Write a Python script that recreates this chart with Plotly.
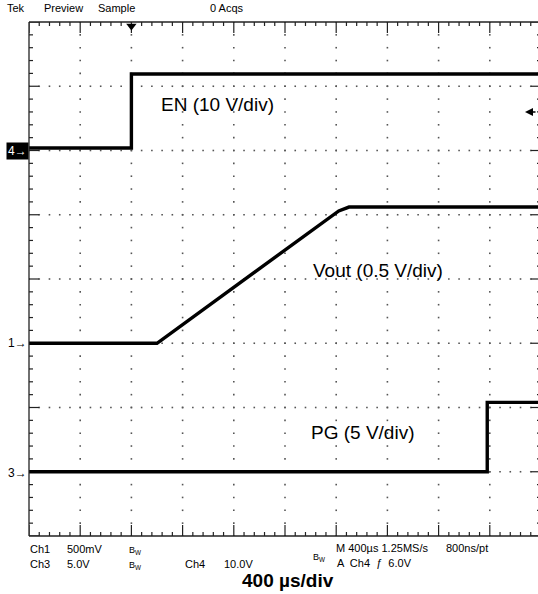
import numpy as np
import plotly.graph_objects as go

# ---------------- data (time in µs relative to trigger, values in volts) -------------
t_en = [-800, 0, 0, 3180]
v_en = [0.4, 0.4, 11.9, 11.9]

t_vout = [-800, 200, 1620, 1700, 3180]
v_vout = [0.0, 0.0, 1.03, 1.06, 1.06]

t_pg = [-800, 2780, 2780, 3180]
v_pg = [0.0, 0.0, 5.4, 5.4]

labels = ["EN (10 V/div)", "Vout (0.5 V/div)", "PG (5 V/div)"]
header = ["Tek", "Preview", "Sample", "0 Acqs"]

# channel vertical scales (V/div) and reference position (divisions from bottom)
en_scale, en_ref = 10.0, 6
vo_scale, vo_ref = 0.5, 3
pg_scale, pg_ref = 5.0, 1

# ---------------- geometry -------------
W, H = 538, 594
L, T, B, R = 29, 22, 58, 0
PW, PH = W - L - R, H - T - B
US_PER_DIV = 400
PX_PER_XDIV = 51.2
PX_PER_YDIV = PH / 8.0
x0 = -800
x1 = x0 + PW / PX_PER_XDIV * US_PER_DIV
x_right_edge = x0 + 10 * US_PER_DIV


def P(px, py):
    return (px - L) / PW, (H - B - py) / PH


fig = go.Figure()

# grid dots
gx, gy = [], []
minor_x = np.arange(x0, x1 + 1e-6, US_PER_DIV / 5)
for yd in range(1, 8):
    gx += list(minor_x)
    gy += [yd] * len(minor_x)
minor_y = np.arange(0, 8 + 1e-6, 0.2)
for k in range(1, 10):
    xv = x0 + k * US_PER_DIV
    gx += [xv] * len(minor_y)
    gy += list(minor_y)
fig.add_trace(go.Scatter(x=gx, y=gy, mode="markers", hoverinfo="skip",
                         marker=dict(symbol="square", size=1.6, color="#555555", line=dict(width=0)),
                         showlegend=False))

# frame ticks
tx, ty = [], []
xs_ticks = np.arange(x0, x_right_edge + 1e-6, US_PER_DIV / 5)
for i, xv in enumerate(xs_ticks):
    ln = (11 if i % 5 == 0 else 4) / PX_PER_YDIV
    tx += [xv, xv, None, xv, xv, None]
    ty += [8, 8 - ln, None, 0, ln, None]
for i, yv in enumerate(minor_y):
    lnx = (10 if i % 5 == 0 else 4) / PX_PER_XDIV * US_PER_DIV
    tx += [x0, x0 + lnx, None, x_right_edge, x_right_edge - lnx, None]
    ty += [yv, yv, None, yv, yv, None]
fig.add_trace(go.Scatter(x=tx, y=ty, mode="lines", hoverinfo="skip",
                         line=dict(color="#222222", width=1.2), showlegend=False))

# signal traces
fig.add_trace(go.Scatter(x=t_en, y=v_en, yaxis="y2", mode="lines",
                         line=dict(color="black", width=3.4), showlegend=False))
fig.add_trace(go.Scatter(x=t_vout, y=v_vout, yaxis="y3", mode="lines",
                         line=dict(color="black", width=3.4), showlegend=False))
fig.add_trace(go.Scatter(x=t_pg, y=v_pg, yaxis="y4", mode="lines",
                         line=dict(color="black", width=3.4), showlegend=False))

# trigger position marker
fig.add_trace(go.Scatter(x=[0], y=[8 - 4 / PX_PER_YDIV], mode="markers", cliponaxis=False,
                         marker=dict(symbol="triangle-down", size=9, color="black"),
                         hoverinfo="skip", showlegend=False))

shapes = [
    dict(type="line", xref="paper", yref="paper", x0=0, x1=1, y0=1, y1=1,
         line=dict(color="#222", width=1.3)),
    dict(type="line", xref="paper", yref="paper", x0=0, x1=1, y0=0, y1=0,
         line=dict(color="#222", width=1.3)),
    dict(type="line", xref="paper", yref="paper", x0=0, x1=0, y0=0, y1=1,
         line=dict(color="#222", width=1.3)),
]

small = dict(family="Liberation Sans Narrow, Arial Narrow, Liberation Sans, Arial", size=11, color="black")
big = dict(family="Liberation Sans, Arial", size=19, color="black")

ann = []


def add_text(text, px, py, font, xanchor="left", **kw):
    x, y = P(px, py)
    ann.append(dict(text=text, x=x, y=y, xref="paper", yref="paper", xanchor=xanchor,
                    yanchor="middle", showarrow=False, font=font, **kw))


# header
add_text(header[0], 5, 8, small)
add_text(header[1], 42, 8, small)
add_text(header[2], 96, 8, small)
add_text(header[3], 208, 8, small)

# channel labels
add_text(labels[0], 159, 104, big)
add_text(labels[1], 311, 270, big)
add_text(labels[2], 309, 432, big)

# channel markers
add_text("4→", 29, 151, dict(small, color="white", size=12), xanchor="right", bgcolor="black", borderpad=1)
add_text("1→", 29, 343, dict(small, size=12), xanchor="right")
add_text("3→", 29, 473, dict(small, size=12), xanchor="right")

# trigger level arrow on the right edge
ax_, ay_ = P(525, 112)
ann.append(dict(x=ax_, y=ay_, xref="paper", yref="paper", ax=12, ay=0, showarrow=True,
                arrowhead=2, arrowsize=1, arrowwidth=1.6, arrowcolor="black", text=""))

# bottom info
add_text("Ch1", 28, 549, small)
add_text("500mV", 65, 549, small)
add_text("B<sub>W</sub>", 127, 550, dict(small, size=9))
add_text("M 400µs 1.25MS/s", 334, 548, small)
add_text("800ns/pt", 444, 548, small)
add_text("Ch3", 28, 564, small)
add_text("5.0V", 65, 564, small)
add_text("B<sub>W</sub>", 127, 565, dict(small, size=9))
add_text("Ch4", 183, 564, small)
add_text("10.0V", 222, 564, small)
add_text("B<sub>W</sub>", 311, 557, dict(small, size=9))
add_text("A  Ch4  ƒ  6.0V", 335, 563, small)
add_text("<b>400 µs/div</b>", 288, 580, dict(family="Liberation Sans, Arial", size=19, color="black"),
         xanchor="center")

fig.update_layout(
    width=W, height=H,
    margin=dict(l=L, r=R, t=T, b=B, pad=0),
    paper_bgcolor="white", plot_bgcolor="white",
    showlegend=False,
    xaxis=dict(range=[x0, x1], visible=False, fixedrange=True),
    yaxis=dict(range=[0, 8], visible=False),
    yaxis2=dict(range=[-en_ref * en_scale, (8 - en_ref) * en_scale], overlaying="y", visible=False),
    yaxis3=dict(range=[-vo_ref * vo_scale, (8 - vo_ref) * vo_scale], overlaying="y", visible=False),
    yaxis4=dict(range=[-pg_ref * pg_scale, (8 - pg_ref) * pg_scale], overlaying="y", visible=False),
    shapes=shapes,
    annotations=ann,
)

fig.write_html("out.html", config={"displayModeBar": False},
               post_script="document.body.style.margin='0';document.body.style.overflow='hidden';")
